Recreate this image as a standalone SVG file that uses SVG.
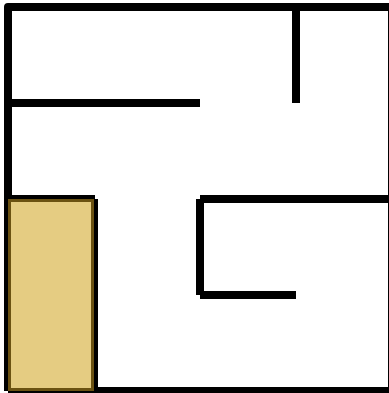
<svg xmlns="http://www.w3.org/2000/svg" width="389" height="393" viewBox="0 0 389 393">
<style>
.w{stroke:#000;stroke-width:8;fill:none;stroke-linecap:butt}
</style>
<rect width="389" height="393" fill="#fff"/>
<g id="walls">
<path class="w" d="M8,391 V7 H392 V391 H8" stroke-linejoin="round"/>
<line class="w" x1="8" y1="103" x2="200" y2="103"/>
<line class="w" x1="296" y1="7" x2="296" y2="103"/>
<line class="w" x1="8" y1="199" x2="95" y2="199"/>
<line class="w" x1="94" y1="199" x2="94" y2="391"/>
<line class="w" x1="200" y1="199" x2="392" y2="199"/>
<line class="w" x1="200" y1="199" x2="200" y2="295"/>
<line class="w" x1="200" y1="295" x2="296" y2="295"/>
</g>
<g id="room">
<rect x="9.5" y="200.5" width="83" height="189" fill="#e5cc82" stroke="#6b5212" stroke-width="3"/>
</g>
</svg>
